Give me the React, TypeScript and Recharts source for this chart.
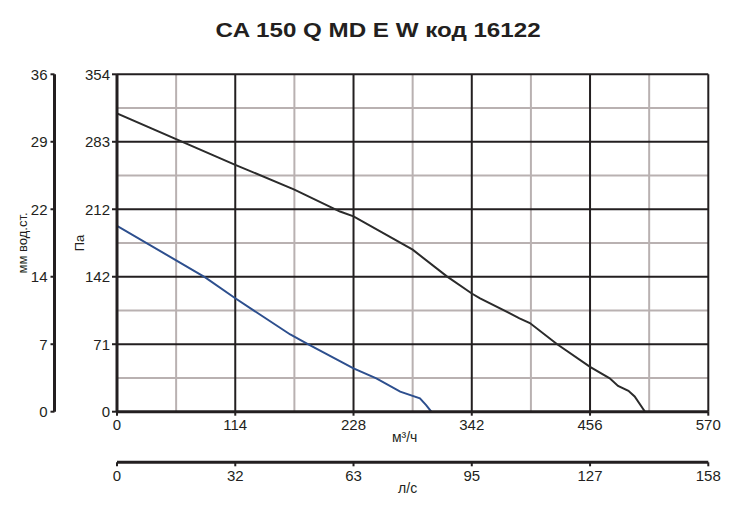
import React from "react";
import { LineChart, Line, XAxis, YAxis, ReferenceLine, Label } from "recharts";

// ─── Данные ───────────────────────────────────────────────────────────────────

const flowTicks = [0, 114, 228, 342, 456, 570]; // м³/ч
const flowMinor = [57, 171, 285, 399, 513];
const paTicks = [0, 70.8, 141.6, 212.4, 283.2, 354]; // Па
const paMinor = [35.4, 106.2, 177, 247.8, 318.6];
const mmTicks = [0, 7.2, 14.4, 21.6, 28.8, 36]; // мм вод.ст.
const lsTicks = [0, 31.67, 63.33, 95, 126.67, 158.33]; // л/с

// верхняя кривая (чёрная)
const highFlow = [0, 114, 171, 215, 228, 285, 318, 342, 350, 388, 398, 424, 456, 475, 483, 493, 499, 509];
const highPa = [313, 259, 233, 210, 205, 170, 142, 124, 119, 98, 93, 71, 47, 35, 27, 22, 16, 0];

// нижняя кривая (синяя)
const lowFlow = [0, 85, 114, 167, 184, 228, 250, 273, 292, 298, 303];
const lowPa = [195, 141, 119, 81, 71, 45.5, 35, 21, 14, 7, 0];

const highData = highFlow.map((f, i) => ({ flow: f, pa: highPa[i] }));
const lowData = lowFlow.map((f, i) => ({ flow: f, pa: lowPa[i] }));
// ось л/с без серий не строит тики — даём ей значения через данные графика
const lsData = lsTicks.map((v) => ({ ls: v }));

// ─── Стили ────────────────────────────────────────────────────────────────────

const INK = "#231f20";
const MINOR = "#b9b1b1";
const FONT = "'Liberation Sans', Arial, Helvetica, sans-serif";
const tickStyle = { fontSize: 15, fill: INK, fontFamily: FONT };
const round = (v: number) => String(Math.round(v));

function SideTitle(props: any) {
  const { viewBox, value, shift = 0 } = props;
  if (!viewBox) return null;
  const cx = viewBox.x + viewBox.width / 2 + shift;
  const cy = viewBox.y + viewBox.height / 2;
  return (
    <text
      x={cx}
      y={cy}
      transform={`rotate(-90 ${cx} ${cy})`}
      textAnchor="middle"
      dominantBaseline="central"
      fontSize={13}
      fontFamily={FONT}
      fill={INK}
    >
      {value}
    </text>
  );
}

export default function App() {
  return (
    <div
      style={{
        position: "absolute",
        left: 0,
        top: 0,
        width: 750,
        height: 519,
        background: "#fff",
      }}
    >
      <div
        style={{
          position: "absolute",
          left: 3,
          top: 18,
          width: 750,
          textAlign: "center",
          fontFamily: FONT,
          fontWeight: "bold",
          fontSize: 21,
          lineHeight: "24px",
          color: INK,
          transform: "scaleX(1.15)",
        }}
      >
        CA 150 Q MD E W код 16122
      </div>
      <LineChart
        width={750}
        height={519}
        data={lsData}
        margin={{ top: 74.3, right: 41.7, left: 0, bottom: 0 }}
      >
        {/* x1 / y1 — основные оси у графика, x2 / y2 — дополнительные снаружи */}
        <XAxis
          xAxisId="x1"
          dataKey="flow"
          type="number"
          domain={[0, 570]}
          ticks={flowTicks}
          interval={0}
          allowDataOverflow
          height={50.6}
          axisLine={{ stroke: INK, strokeWidth: 3 }}
          tickLine={{ stroke: INK, strokeWidth: 2 }}
          tickSize={4}
          tickMargin={4}
          tick={tickStyle}
        >
          <Label
            value="м³/ч"
            position="center"
            dx={-8}
            fontSize={14}
            fontFamily={FONT}
            fill={INK}
          />
        </XAxis>
        <XAxis
          xAxisId="x2"
          dataKey="ls"
          type="number"
          domain={[0, 158.33]}
          ticks={lsTicks}
          interval={0}
          allowDataOverflow
          height={56.7}
          axisLine={{ stroke: INK, strokeWidth: 3 }}
          tickLine={{ stroke: INK, strokeWidth: 2 }}
          tickSize={4}
          tickMargin={4}
          tick={tickStyle}
          tickFormatter={round}
        >
          <Label
            value="л/с"
            position="center"
            dx={-5}
            dy={-3}
            fontSize={14}
            fontFamily={FONT}
            fill={INK}
          />
        </XAxis>
        <YAxis
          yAxisId="y1"
          type="number"
          domain={[0, 354]}
          ticks={paTicks}
          interval={0}
          allowDataOverflow
          width={62.5}
          axisLine={{ stroke: INK, strokeWidth: 3 }}
          tickLine={{ stroke: INK, strokeWidth: 2 }}
          tickSize={5}
          tickMargin={2}
          tick={tickStyle}
          tickFormatter={round}
        >
          <Label value="Па" content={<SideTitle shift={-6} />} />
        </YAxis>
        <YAxis
          yAxisId="y2"
          type="number"
          domain={[0, 36]}
          ticks={mmTicks}
          interval={0}
          allowDataOverflow
          width={54.5}
          axisLine={{ stroke: INK, strokeWidth: 3 }}
          tickLine={{ stroke: INK, strokeWidth: 2 }}
          tickSize={4}
          tickMargin={3}
          tick={tickStyle}
          tickFormatter={round}
        >
          <Label value="мм вод.ст." content={<SideTitle shift={-5} />} />
        </YAxis>

        {flowMinor.map((v) => (
          <ReferenceLine key={`vx${v}`} x={v} xAxisId="x1" yAxisId="y1" stroke={MINOR} strokeWidth={2} />
        ))}
        {paMinor.map((v) => (
          <ReferenceLine key={`vy${v}`} y={v} xAxisId="x1" yAxisId="y1" stroke={MINOR} strokeWidth={2} />
        ))}
        {flowTicks.slice(1).map((v) => (
          <ReferenceLine key={`mx${v}`} x={v} xAxisId="x1" yAxisId="y1" stroke={INK} strokeWidth={2} />
        ))}
        {paTicks.slice(1).map((v) => (
          <ReferenceLine key={`my${v}`} y={v} xAxisId="x1" yAxisId="y1" stroke={INK} strokeWidth={2} />
        ))}

        <Line
          data={highData}
          dataKey="pa"
          xAxisId="x1"
          yAxisId="y1"
          type="linear"
          stroke="#2b2b2b"
          strokeWidth={2}
          dot={false}
          isAnimationActive={false}
        />
        <Line
          data={lowData}
          dataKey="pa"
          xAxisId="x1"
          yAxisId="y1"
          type="linear"
          stroke="#2d4f8e"
          strokeWidth={2}
          dot={false}
          isAnimationActive={false}
        />
      </LineChart>
    </div>
  );
}
